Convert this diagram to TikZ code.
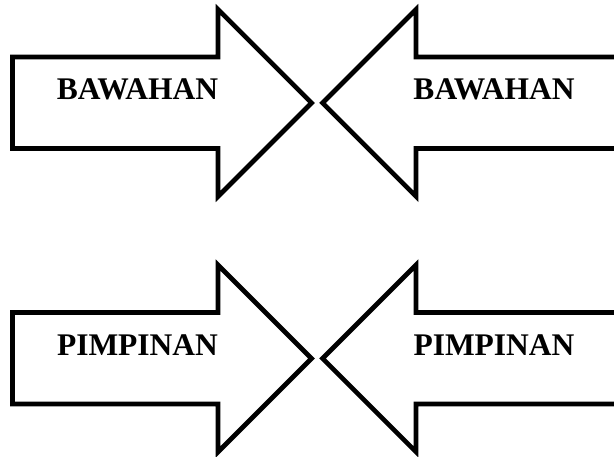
\documentclass[tikz,border=0pt]{standalone}
\usepackage{fontspec}
\setmainfont{Liberation Serif}
\begin{document}
\begin{tikzpicture}[x=1pt, y=-1pt,
    panah/.style={draw=black, line width=4.6pt, fill=white, line join=miter},
    tulisan/.style={font=\bfseries\fontsize{31.5}{36}\selectfont, inner sep=0pt}]
    \useasboundingbox (0,0) rectangle (614,457);

    % dua baris panah
    \foreach \dy/\teks in {0/BAWAHAN, 255.5/PIMPINAN} {
        % panah ke kanan
        \draw[panah] (12.5,57+\dy) -- (218,57+\dy) -- (218,9.5+\dy) -- (311.5,103+\dy)
            -- (218,196.5+\dy) -- (218,148.5+\dy) -- (12.5,148.5+\dy) -- cycle;
        % panah ke kiri (ujung kanan terpotong)
        \draw[panah] (640,57+\dy) -- (416,57+\dy) -- (416,9.5+\dy) -- (322.5,103+\dy)
            -- (416,196.5+\dy) -- (416,148.5+\dy) -- (640,148.5+\dy) -- cycle;
        % teks
        \node[tulisan] (kiri\teks) at (137.5,89.5+\dy) {\teks};
        \node[tulisan] (kanan\teks) at (494,89.5+\dy) {\teks};
    }
\end{tikzpicture}
\end{document}
